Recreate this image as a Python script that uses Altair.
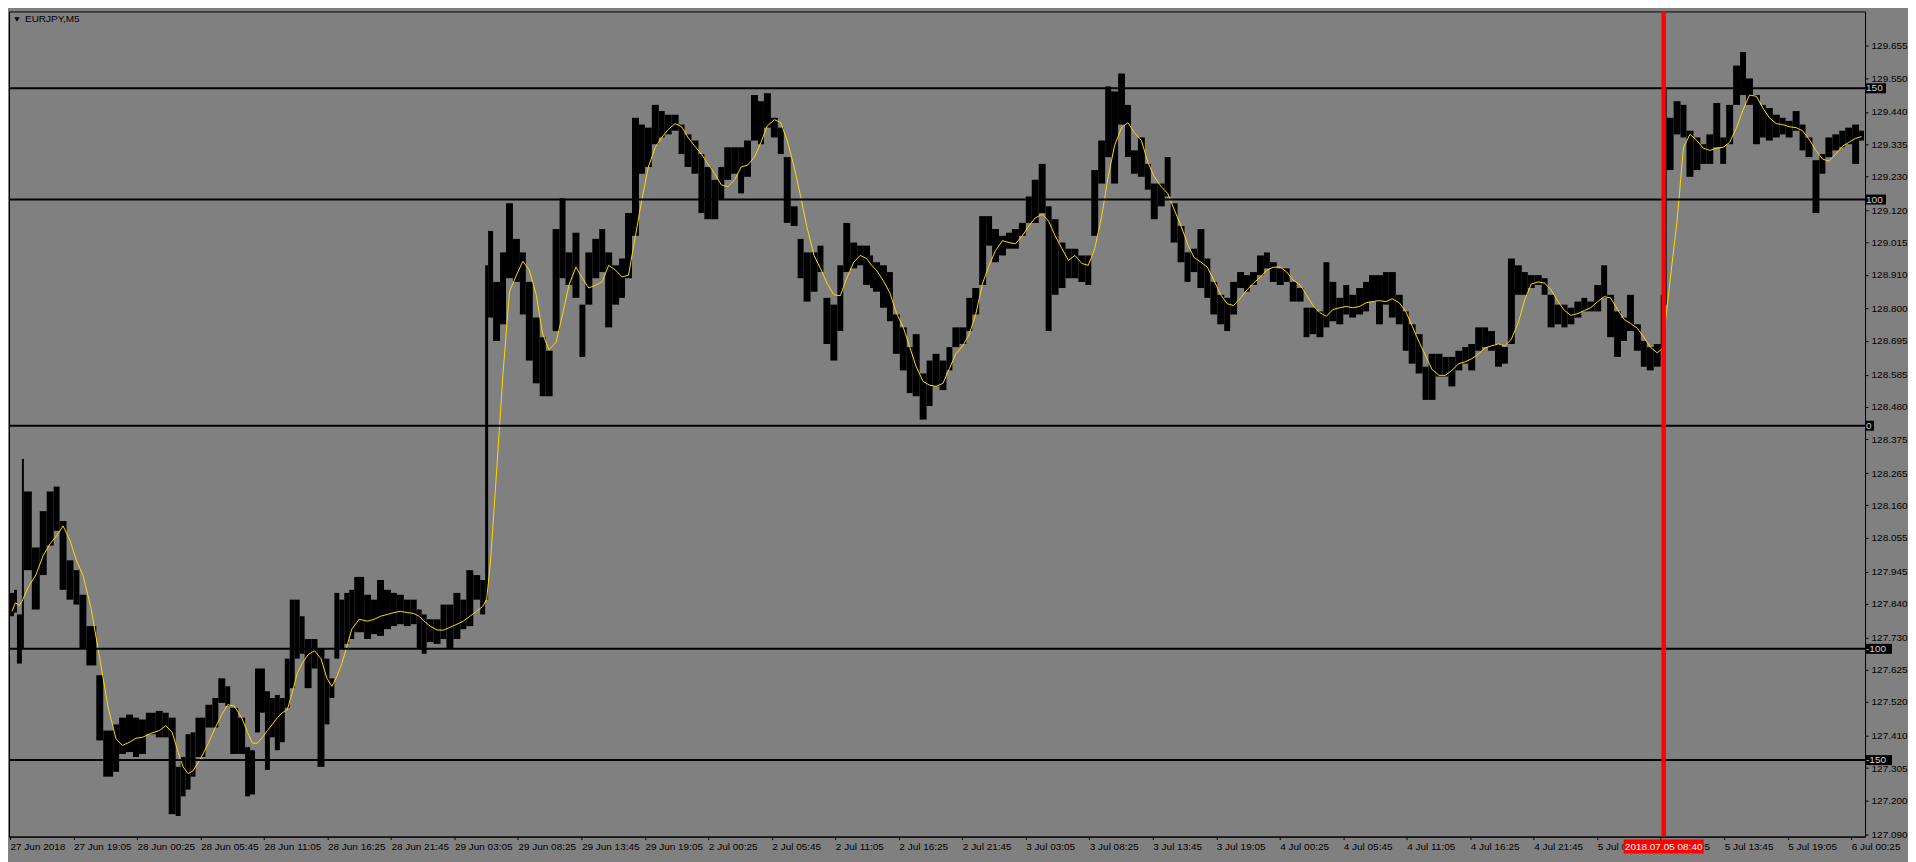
import json
import altair as alt
import pandas as pd

# ---- data (M5 bars aggregated into small groups) ----
symbol = "EURJPY,M5"
bar_start = [0, 4, 7, 12, 14, 22, 30, 37, 44, 50, 57, 64, 70, 77, 87, 94, 104, 110, 117, 124,
             130, 137, 147, 154, 160, 167, 172, 177, 182, 187, 197, 204, 210, 217, 222, 230, 237, 242, 247, 252,
             257, 262, 267, 272, 277, 282, 287, 292, 297, 304, 310, 317, 322, 327, 332, 337, 342, 347, 357, 364,
             370, 377, 384, 390, 397, 404, 410, 415, 420, 427, 434, 440, 447, 454, 460, 467, 474, 479, 482, 487,
             494, 500, 507, 514, 520, 527, 534, 540, 547, 554, 560, 567, 574, 580, 587, 594, 600, 607, 614, 620,
             627, 634, 640, 647, 654, 660, 667, 674, 680, 687, 694, 700, 707, 714, 720, 727, 734, 740, 747, 754,
             760, 767, 774, 780, 787, 794, 800, 807, 814, 820, 827, 834, 840, 847, 854, 860, 867, 870, 877, 884,
             890, 897, 904, 910, 917, 924, 930, 937, 944, 950, 957, 964, 970, 977, 984, 990, 997, 1004, 1010, 1017,
             1024, 1030, 1037, 1044, 1050, 1057, 1064, 1070, 1077, 1084, 1090, 1097, 1104, 1110, 1117, 1124, 1130, 1137, 1144, 1150,
             1157, 1164, 1170, 1177, 1184, 1190, 1197, 1204, 1210, 1217, 1224, 1230, 1237, 1244, 1250, 1257, 1264, 1270, 1277, 1284,
             1290, 1297, 1304, 1310, 1317, 1324, 1330, 1337, 1344, 1350, 1357, 1364, 1370, 1377, 1384, 1390, 1397, 1404, 1410, 1417,
             1424, 1430, 1437, 1444, 1450, 1457, 1464, 1470, 1477, 1484, 1490, 1497, 1504, 1510, 1517, 1524, 1530, 1537, 1544, 1550,
             1557, 1564, 1570, 1577, 1584, 1590, 1597, 1604, 1610, 1617, 1624, 1630, 1637, 1644, 1650, 1657, 1664, 1667, 1670, 1677,
             1684, 1690, 1697, 1704, 1710, 1717, 1724, 1730, 1737, 1744, 1750, 1757, 1764, 1770, 1777, 1784, 1790, 1797, 1804, 1810,
             1817, 1824, 1830, 1837, 1844, 1850, 1857, 1864]
last_bar = 1869

high = [127.875, 127.885, 127.805, 128.311, 128.205, 128.023, 128.141, 128.205, 128.221, 128.109, 127.981, 127.949, 127.869, 127.767, 127.607, 127.427, 127.447, 127.469, 127.479, 127.469,
        127.463, 127.485, 127.491, 127.485, 127.469, 127.309, 127.341, 127.415, 127.421, 127.469, 127.511, 127.533, 127.597, 127.571, 127.501, 127.469, 127.373, 127.363, 127.629, 127.629,
        127.555, 127.533, 127.543, 127.533, 127.661, 127.853, 127.853, 127.799, 127.725, 127.725, 127.693, 127.661, 127.597, 127.875, 127.853, 127.875, 127.885, 127.927, 127.869, 127.853,
        127.917, 127.885, 127.875, 127.869, 127.853, 127.853, 127.821, 127.805, 127.789, 127.789, 127.837, 127.837, 127.875, 127.853, 127.949, 127.933, 127.917, 128.941, 129.053, 128.887,
        128.983, 129.143, 129.027, 128.983, 128.887, 128.771, 128.707, 128.663, 129.059, 129.159, 128.983, 129.047, 128.813, 128.983, 129.027, 129.059, 128.983, 128.941, 128.963, 129.111,
        129.421, 129.399, 129.389, 129.463, 129.443, 129.431, 129.431, 129.399, 129.367, 129.347, 129.303, 129.261, 129.219, 129.261, 129.325, 129.325, 129.325, 129.347, 129.495, 129.475,
        129.501, 129.421, 129.389, 129.293, 129.133, 129.027, 128.983, 128.983, 129.005, 128.835, 128.813, 128.941, 129.079, 129.015, 129.005, 129.005, 128.973, 128.951, 128.941, 128.919,
        128.781, 128.739, 128.675, 128.717, 128.589, 128.631, 128.653, 128.631, 128.675, 128.739, 128.739, 128.835, 128.867, 129.101, 129.101, 129.059, 129.037, 129.047, 129.059, 129.079,
        129.165, 129.219, 129.271, 129.133, 129.091, 129.015, 128.995, 128.995, 128.973, 128.973, 129.251, 129.347, 129.523, 129.507, 129.565, 129.463, 129.315, 129.357, 129.271, 129.207,
        129.207, 129.293, 129.143, 129.069, 128.983, 128.995, 129.059, 128.963, 128.887, 128.845, 128.835, 128.887, 128.919, 128.909, 128.919, 128.973, 128.983, 128.951, 128.931, 128.931,
        128.887, 128.867, 128.803, 128.803, 128.791, 128.951, 128.887, 128.835, 128.877, 128.845, 128.867, 128.887, 128.909, 128.909, 128.919, 128.919, 128.845, 128.791, 128.749, 128.717,
        128.611, 128.653, 128.653, 128.643, 128.643, 128.663, 128.675, 128.685, 128.739, 128.739, 128.727, 128.685, 128.675, 128.963, 128.941, 128.919, 128.909, 128.909, 128.899, 128.845,
        128.813, 128.813, 128.803, 128.823, 128.835, 128.823, 128.877, 128.941, 128.845, 128.791, 128.771, 128.845, 128.749, 128.695, 128.675, 128.685, 128.845, 129.517, 129.421, 129.475,
        129.463, 129.379, 129.357, 129.335, 129.367, 129.469, 129.357, 129.463, 129.591, 129.635, 129.549, 129.495, 129.463, 129.453, 129.431, 129.421, 129.411, 129.443, 129.399, 129.357,
        129.283, 129.303, 129.357, 129.367, 129.379, 129.389, 129.399, 129.379]

low = [127.799, 127.811, 127.645, 127.693, 127.949, 127.821, 127.933, 128.029, 128.077, 127.885, 127.853, 127.837, 127.693, 127.639, 127.395, 127.277, 127.293, 127.351, 127.357, 127.341,
       127.351, 127.415, 127.405, 127.405, 127.155, 127.149, 127.213, 127.235, 127.277, 127.341, 127.437, 127.437, 127.517, 127.507, 127.351, 127.351, 127.213, 127.219, 127.421, 127.485,
       127.299, 127.405, 127.363, 127.389, 127.501, 127.565, 127.661, 127.677, 127.565, 127.629, 127.309, 127.447, 127.533, 127.661, 127.693, 127.709, 127.725, 127.747, 127.725, 127.741,
       127.735, 127.757, 127.767, 127.773, 127.767, 127.773, 127.693, 127.677, 127.715, 127.709, 127.725, 127.693, 127.725, 127.757, 127.767, 127.853, 127.805, 127.853, 128.771, 128.695,
       128.749, 128.899, 128.887, 128.781, 128.631, 128.557, 128.515, 128.515, 128.727, 128.899, 128.877, 128.835, 128.643, 128.813, 128.899, 128.919, 128.739, 128.813, 128.835, 128.899,
       129.037, 129.239, 129.261, 129.335, 129.357, 129.367, 129.379, 129.303, 129.261, 129.239, 129.111, 129.091, 129.091, 129.155, 129.219, 129.239, 129.175, 129.229, 129.347, 129.335,
       129.389, 129.357, 129.303, 129.079, 129.069, 128.899, 128.823, 128.855, 128.919, 128.685, 128.631, 128.727, 128.919, 128.931, 128.941, 128.877, 128.867, 128.855, 128.803, 128.759,
       128.653, 128.599, 128.525, 128.515, 128.439, 128.483, 128.547, 128.535, 128.599, 128.675, 128.685, 128.727, 128.781, 128.877, 129.005, 128.951, 128.973, 128.995, 128.995, 129.037,
       129.079, 129.079, 129.111, 128.727, 128.845, 128.867, 128.899, 128.899, 128.887, 128.877, 129.037, 129.207, 129.293, 129.207, 129.399, 129.293, 129.239, 129.229, 129.187, 129.091,
       129.133, 129.165, 129.015, 128.951, 128.887, 128.919, 128.867, 128.835, 128.781, 128.749, 128.727, 128.781, 128.867, 128.855, 128.877, 128.909, 128.931, 128.887, 128.877, 128.887,
       128.823, 128.823, 128.707, 128.717, 128.707, 128.739, 128.759, 128.749, 128.781, 128.771, 128.781, 128.791, 128.823, 128.749, 128.813, 128.771, 128.749, 128.663, 128.621, 128.589,
       128.503, 128.503, 128.579, 128.579, 128.547, 128.599, 128.621, 128.599, 128.663, 128.675, 128.663, 128.611, 128.621, 128.685, 128.845, 128.845, 128.867, 128.877, 128.845, 128.739,
       128.749, 128.739, 128.749, 128.771, 128.791, 128.791, 128.791, 128.835, 128.707, 128.643, 128.695, 128.727, 128.663, 128.611, 128.599, 128.611, 128.663, 128.813, 129.251, 129.367,
       129.357, 129.229, 129.251, 129.271, 129.271, 129.325, 129.271, 129.335, 129.463, 129.495, 129.463, 129.335, 129.357, 129.347, 129.357, 129.367, 129.357, 129.379, 129.315, 129.293,
       129.111, 129.239, 129.293, 129.315, 129.325, 129.335, 129.271, 129.347]

ma = [127.815, 127.843, 127.834, 127.853, 127.891, 127.933, 127.997, 128.035, 128.061, 128.093, 128.045, 127.981, 127.933, 127.821, 127.661, 127.501, 127.399, 127.379, 127.389, 127.402,
      127.405, 127.418, 127.427, 127.443, 127.421, 127.357, 127.309, 127.287, 127.296, 127.335, 127.389, 127.437, 127.479, 127.511, 127.507, 127.469, 127.421, 127.386, 127.386, 127.405,
      127.427, 127.447, 127.469, 127.485, 127.495, 127.549, 127.613, 127.645, 127.674, 127.687, 127.661, 127.597, 127.571, 127.603, 127.645, 127.699, 127.757, 127.789, 127.783, 127.789,
      127.799, 127.805, 127.811, 127.815, 127.811, 127.808, 127.799, 127.783, 127.767, 127.754, 127.754, 127.763, 127.773, 127.783, 127.799, 127.815, 127.831, 127.853, 127.981, 128.269,
      128.589, 128.855, 128.909, 128.954, 128.925, 128.845, 128.717, 128.666, 128.691, 128.781, 128.877, 128.935, 128.899, 128.867, 128.877, 128.887, 128.941, 128.925, 128.903, 128.909,
      129.037, 129.155, 129.261, 129.325, 129.357, 129.383, 129.402, 129.392, 129.357, 129.328, 129.303, 129.271, 129.239, 129.203, 129.197, 129.219, 129.261, 129.267, 129.293, 129.341,
      129.395, 129.415, 129.405, 129.347, 129.261, 129.165, 129.063, 128.973, 128.931, 128.883, 128.845, 128.842, 128.899, 128.951, 128.973, 128.963, 128.941, 128.925, 128.890, 128.851,
      128.787, 128.739, 128.675, 128.611, 128.563, 128.551, 128.547, 128.557, 128.605, 128.653, 128.679, 128.717, 128.781, 128.883, 128.941, 128.989, 129.021, 129.015, 129.011, 129.037,
      129.069, 129.095, 129.107, 129.085, 129.037, 128.995, 128.957, 128.973, 128.947, 128.941, 128.995, 129.101, 129.229, 129.331, 129.389, 129.405, 129.373, 129.347, 129.277, 129.229,
      129.197, 129.175, 129.123, 129.069, 129.011, 128.967, 128.951, 128.935, 128.893, 128.845, 128.816, 128.810, 128.835, 128.861, 128.883, 128.903, 128.925, 128.935, 128.935, 128.919,
      128.893, 128.877, 128.845, 128.810, 128.787, 128.775, 128.797, 128.803, 128.807, 128.803, 128.807, 128.819, 128.823, 128.826, 128.823, 128.832, 128.819, 128.791, 128.743, 128.691,
      128.647, 128.602, 128.583, 128.583, 128.599, 128.621, 128.627, 128.637, 128.653, 128.672, 128.679, 128.685, 128.679, 128.701, 128.755, 128.829, 128.880, 128.887, 128.883, 128.861,
      128.823, 128.794, 128.778, 128.784, 128.794, 128.803, 128.823, 128.839, 128.835, 128.797, 128.765, 128.752, 128.736, 128.707, 128.675, 128.656, 128.669, 128.749, 128.893, 129.085,
      129.325, 129.367, 129.347, 129.322, 129.315, 129.322, 129.325, 129.341, 129.389, 129.447, 129.495, 129.491, 129.453, 129.421, 129.402, 129.399, 129.392, 129.389, 129.379, 129.351,
      129.315, 129.287, 129.280, 129.303, 129.328, 129.341, 129.354, 129.360]

x_tick_bars = list(range(0, 1857, 64))
x_tick_labels = ["27 Jun 2018", "27 Jun 19:05", "28 Jun 00:25", "28 Jun 05:45", "28 Jun 11:05", "28 Jun 16:25",
                 "28 Jun 21:45", "29 Jun 03:05", "29 Jun 08:25", "29 Jun 13:45", "29 Jun 19:05", "2 Jul 00:25",
                 "2 Jul 05:45", "2 Jul 11:05", "2 Jul 16:25", "2 Jul 21:45", "3 Jul 03:05", "3 Jul 08:25",
                 "3 Jul 13:45", "3 Jul 19:05", "4 Jul 00:25", "4 Jul 05:45", "4 Jul 11:05", "4 Jul 16:25",
                 "4 Jul 21:45", "5 Jul 03:05", "5 Jul 08:25", "5 Jul 13:45", "5 Jul 19:05", "6 Jul 00:25"]
y_ticks = [129.655, 129.550, 129.440, 129.335, 129.230, 129.120, 129.015, 128.910, 128.800, 128.695,
           128.585, 128.480, 128.375, 128.265, 128.160, 128.055, 127.945, 127.840, 127.730, 127.625,
           127.520, 127.410, 127.305, 127.200, 127.090]
level_names = ["150", "100", "0", "-100", "-150"]
level_prices = [129.517, 129.155, 128.419, 127.693, 127.331]
event_bar = 1667
event_label = "2018.07.05 08:40"

# ---- chart ----
W, H = 1858, 826
FONT = "Liberation Sans"
df = pd.DataFrame({"bar": bar_start, "hi": high, "lo": low, "ma": ma})
df["bar_end"] = df["bar"].shift(-1).fillna(last_bar)
df["mid"] = (df["bar"] + df["bar_end"]) / 2

xs = alt.Scale(domain=[-1, 1870], nice=False, zero=False)
ys = alt.Scale(domain=[127.082, 129.767], nice=False, zero=False)

label_expr = json.dumps(x_tick_labels) + "[round(datum.value / 64)]"

x_axis = alt.Axis(values=x_tick_bars, labelExpr=label_expr, title=None, grid=False, orient="bottom",
                  tickSize=3, tickColor="black", domainColor="black", labelColor="black",
                  labelAlign="left", labelBaseline="top", labelPadding=2, labelFont=FONT,
                  labelFontSize=10, labelOverlap=False, labelFlush=False, labelBound=False)
y_axis = alt.Axis(values=y_ticks, format=".3f", title=None, grid=False, orient="right",
                  tickSize=3, tickColor="black", domainColor="black", labelColor="black",
                  labelAlign="left", labelBaseline="middle", labelPadding=3, labelFont=FONT,
                  labelFontSize=10, labelOverlap=False, labelFlush=False, labelBound=False)


def X(field):
    return alt.X(field, scale=xs, axis=x_axis)


def Y(field):
    return alt.Y(field, scale=ys, axis=y_axis)


base = alt.Chart(df)
price = base.mark_rect(color="black").encode(
    x=X("bar:Q"), x2="bar_end:Q", y=Y("lo:Q"), y2="hi:Q")
ma_line = base.mark_line(color="#FFD700", strokeWidth=1).encode(x=X("mid:Q"), y=Y("ma:Q"))

lv = pd.DataFrame({"name": level_names, "price": level_prices})
levels = alt.Chart(lv).mark_rule(color="black", strokeWidth=2).encode(
    y=Y("price:Q"), x=alt.value(0), x2=alt.value(W))

layers = [price, ma_line, levels]
for name, p in zip(level_names, level_prices):
    one = alt.Chart(pd.DataFrame({"name": [name], "price": [p]}))
    layers.append(one.mark_rule(color="black", strokeWidth=10, strokeCap="butt").encode(
        y=Y("price:Q"), x=alt.value(W), x2=alt.value(W + 3 + 6 * len(name))))
    layers.append(one.mark_text(color="#d0d0d0", align="left", baseline="middle", font=FONT,
                                fontSize=10).encode(
        y=Y("price:Q"), x=alt.value(W + 1), text="name:N"))

ev = alt.Chart(pd.DataFrame({"bar": [event_bar], "label": [event_label]}))
red_line = ev.mark_rule(color="#FF0000", strokeWidth=4.5).encode(
    x=X("bar:Q"), y=alt.value(0), y2=alt.value(H))
red_box = ev.mark_rule(color="#FF0000", strokeWidth=80, strokeCap="butt").encode(
    x=X("bar:Q"), y=alt.value(H + 3), y2=alt.value(H + 17))
red_text = ev.mark_text(color="white", align="center", baseline="middle", font=FONT, fontSize=10).encode(
    x=X("bar:Q"), y=alt.value(H + 10), text="label:N")
layers += [red_line, red_box, red_text]

ttl = alt.Chart(pd.DataFrame({"t": [symbol]}))
tri = ttl.mark_point(shape="triangle-down", filled=True, color="black", size=28, opacity=1).encode(
    x=alt.value(8), y=alt.value(8))
ttxt = ttl.mark_text(align="left", baseline="middle", font=FONT, fontSize=10, color="black").encode(
    x=alt.value(16), y=alt.value(8), text="t:N")
layers += [tri, ttxt]

chart = alt.layer(*layers).properties(
    width=W, height=H, padding={"left": 0, "top": 0, "right": 0, "bottom": 0},
    background="#808080",
).configure_view(fill="#808080", stroke="black", strokeWidth=1)

chart.save("out.html", embed_options={"renderer": "svg", "actions": False})
